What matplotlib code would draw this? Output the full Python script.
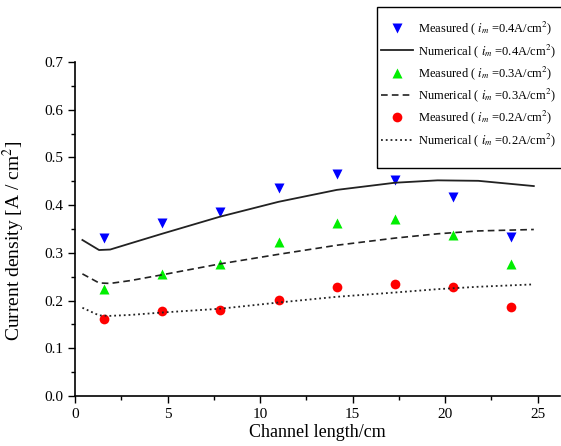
import numpy as np
import matplotlib.pyplot as plt
from matplotlib.ticker import MultipleLocator
from matplotlib.patches import Rectangle

plt.rcParams['font.family'] = ['Liberation Serif', 'DejaVu Serif']
plt.rcParams['mathtext.fontset'] = 'stix'

# measured points
x_meas = [1.57, 4.71, 7.85, 11.0, 14.14, 17.28, 20.42, 23.56]
meas_04 = [0.331, 0.363, 0.385, 0.437, 0.465, 0.453, 0.417, 0.333]
meas_03 = [0.224, 0.255, 0.276, 0.323, 0.363, 0.372, 0.337, 0.277]
meas_02 = [0.161, 0.179, 0.181, 0.201, 0.228, 0.234, 0.228, 0.187]

# numerical curves
x_num = [0.4, 1.3, 1.9, 3.0, 4.7, 7.85, 11.0, 14.15, 17.3, 19.6, 21.8, 24.8]
num_04 = [0.327, 0.306, 0.307, 0.320, 0.340, 0.376, 0.407, 0.432, 0.447, 0.452, 0.451, 0.440]
num_03 = [0.256, 0.237, 0.236, 0.242, 0.254, 0.277, 0.297, 0.316, 0.331, 0.340, 0.346, 0.349]
num_02 = [0.185, 0.169, 0.168, 0.170, 0.175, 0.183, 0.196, 0.208, 0.217, 0.224, 0.229, 0.234]

fig = plt.figure(figsize=(5.61, 4.46), dpi=100)
ax = fig.add_axes([0.1337, 0.112, 0.864, 0.749])

lbl = lambda kind, v: kind + r' ( $i_m$ =' + v + r'A/cm$^2$)'

ax.plot(x_meas, meas_04, 'v', color='#0000ff', ms=7.5, mec='none', label=lbl('Measured', '0.4'))
ax.plot(x_num, num_04, '-', color='#222222', lw=1.3, label=lbl('Numerical', '0.4'))
ax.plot(x_meas, meas_03, '^', color='#00ee00', ms=7.5, mec='none', label=lbl('Measured', '0.3'))
ax.plot(x_num, num_03, '--', color='#222222', lw=1.2, dashes=(4, 2.5), label=lbl('Numerical', '0.3'))
ax.plot(x_meas, meas_02, 'o', color='#ff0000', ms=7, mec='none', label=lbl('Measured', '0.2'))
ax.plot(x_num, num_02, ':', color='#222222', lw=1.3, label=lbl('Numerical', '0.2'))

ax.set_xlim(0, 26.2)
ax.set_ylim(0, 0.7)
ax.xaxis.set_major_locator(MultipleLocator(5))
ax.xaxis.set_minor_locator(MultipleLocator(2.5))
ax.yaxis.set_major_locator(MultipleLocator(0.1))
ax.yaxis.set_minor_locator(MultipleLocator(0.05))
ax.yaxis.set_major_formatter(plt.FormatStrFormatter('%.1f'))
ax.tick_params(which='major', direction='out', length=5, width=1, labelsize=11)
ax.tick_params(which='minor', direction='out', length=3, width=1)
ax.spines['top'].set_visible(False)
ax.spines['right'].set_visible(False)
ax.spines['left'].set_linewidth(1.2)
ax.spines['bottom'].set_linewidth(1.2)

ax.set_xlabel('Channel length/cm', fontsize=13, labelpad=2)
ax.set_ylabel(r'Current density [A / cm$^2$]', fontsize=14)
ax.yaxis.set_label_coords(-0.1, 0.464)

# legend frame drawn separately (box runs off the right edge)
fig.patches.append(Rectangle((377 / 561, 1 - 168 / 446), 200 / 561, 161 / 446,
                             transform=fig.transFigure, fill=False, ec='black', lw=1.0))
leg = ax.legend(loc='upper left', bbox_to_anchor=(377 / 561, 1 - 16 / 446), bbox_transform=fig.transFigure,
                fontsize=9, frameon=False, handlelength=2.6, labelspacing=0.38,
                borderpad=0.3, handletextpad=0.4, borderaxespad=0)

fig.savefig('out.png', dpi=100)
